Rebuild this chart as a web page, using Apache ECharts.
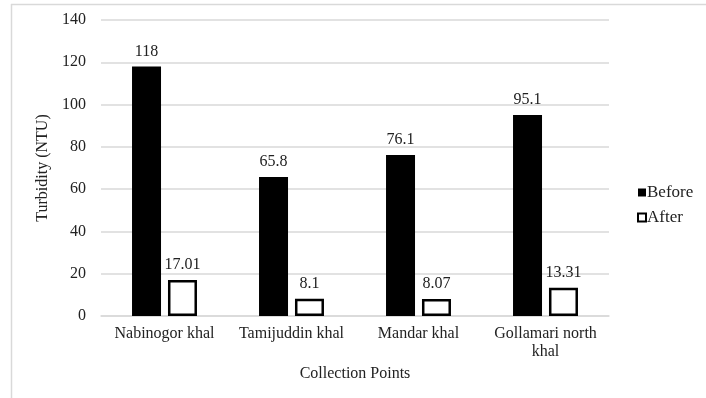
<!DOCTYPE html>
<html>
<head>
<meta charset="utf-8">
<style>
  html, body { margin: 0; padding: 0; background: #fff; }
  #chart { width: 706px; height: 398px; }
</style>
<script src="https://cdn.jsdelivr.net/npm/echarts@6/dist/echarts.min.js"></script>
</head>
<body>
<div id="chart"></div>
<script>
// Turbidity at each collection point, before and after treatment
const categories = ['Nabinogor khal', 'Tamijuddin khal', 'Mandar khal', 'Gollamari north\nkhal'];
const beforeValues = [118, 65.8, 76.1, 95.1];
const afterValues = [17.01, 8.1, 8.07, 13.31];
const beforeLabels = ['118', '65.8', '76.1', '95.1'];
const afterLabels = ['17.01', '8.1', '8.07', '13.31'];
const yTicks = [0, 20, 40, 60, 80, 100, 120, 140];

const FONT = '"Liberation Serif", "Times New Roman", serif';
const TEXT = '#222';
const GRID = '#d9d9d9';

const chart = echarts.init(document.getElementById('chart'), null, { renderer: 'canvas' });

chart.setOption({
  animation: false,
  backgroundColor: '#fff',
  textStyle: { fontFamily: FONT, color: TEXT },
  graphic: [
    // outer frame: top and left edges
    { type: 'line', shape: { x1: 11, y1: 4.5, x2: 706, y2: 4.5 }, style: { stroke: GRID, lineWidth: 1.5 } },
    { type: 'line', shape: { x1: 11.5, y1: 4, x2: 11.5, y2: 398 }, style: { stroke: GRID, lineWidth: 1.5 } }
  ],
  grid: { left: 101, right: 97, top: 20, bottom: 82 },
  legend: {
    orient: 'vertical',
    left: 632,
    top: 179,
    itemWidth: 8,
    itemHeight: 8,
    itemGap: 8,
    textStyle: { fontFamily: FONT, fontSize: 17, color: TEXT, padding: [0, 0, 0, -4] },
    data: [
      { name: 'Before', icon: 'rect', itemStyle: { color: '#000', borderWidth: 0 } },
      { name: 'After', icon: 'rect', itemStyle: { color: '#fff', borderColor: '#000', borderWidth: 2 } }
    ]
  },
  xAxis: {
    type: 'category',
    data: categories,
    name: 'Collection Points',
    nameLocation: 'middle',
    nameGap: 49,
    nameTextStyle: { fontFamily: FONT, fontSize: 16, color: TEXT },
    axisLine: { lineStyle: { color: GRID, width: 1.5 } },
    axisTick: { show: false },
    axisLabel: { fontFamily: FONT, fontSize: 16, color: TEXT, margin: 9, lineHeight: 18, interval: 0 }
  },
  yAxis: {
    type: 'value',
    min: yTicks[0],
    max: yTicks[yTicks.length - 1],
    interval: 20,
    name: 'Turbidity (NTU)',
    nameLocation: 'middle',
    nameGap: 49,
    nameTextStyle: { fontFamily: FONT, fontSize: 16, color: TEXT },
    axisLine: { show: false },
    axisTick: { show: false },
    axisLabel: { fontFamily: FONT, fontSize: 16, color: TEXT, margin: 15 },
    splitLine: { lineStyle: { color: GRID, width: 1.5 } }
  },
  series: [
    {
      name: 'Before',
      type: 'bar',
      data: beforeValues,
      barWidth: 29,
      barGap: '24%',
      itemStyle: { color: '#000' },
      label: {
        show: true,
        position: 'top',
        distance: 7,
        fontFamily: FONT,
        fontSize: 16,
        color: TEXT,
        formatter: p => beforeLabels[p.dataIndex]
      }
    },
    {
      name: 'After',
      type: 'bar',
      data: afterValues,
      barWidth: 29,
      itemStyle: { color: '#fff', borderColor: '#000', borderWidth: 2.5 },
      label: {
        show: true,
        position: 'top',
        distance: 7,
        fontFamily: FONT,
        fontSize: 16,
        color: TEXT,
        formatter: p => afterLabels[p.dataIndex]
      }
    }
  ]
});
</script>
</body>
</html>
